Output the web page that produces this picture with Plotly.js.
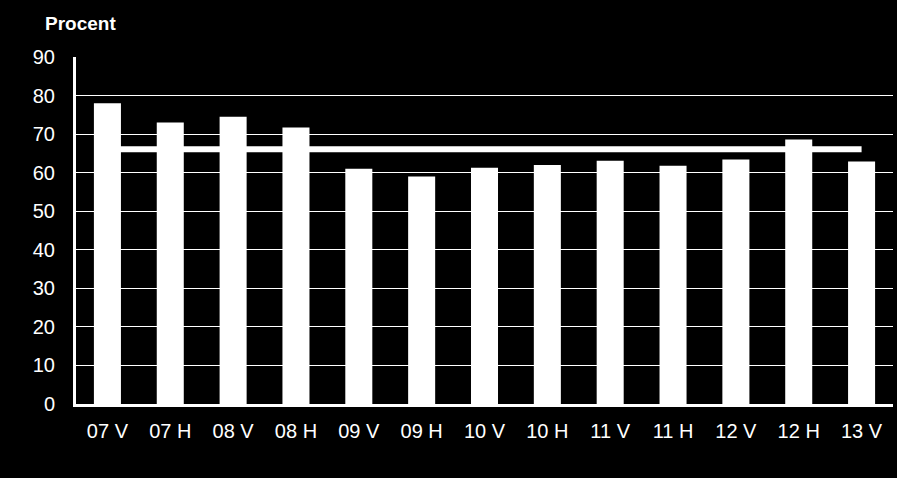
<!DOCTYPE html>
<html>
<head>
<meta charset="utf-8">
<script src="https://cdn.plot.ly/plotly-3.0.1.min.js"></script>
<style>
  html, body { margin: 0; padding: 0; background: #000; }
  #chart { width: 897px; height: 478px; }
</style>
</head>
<body>
<div id="chart"></div>
<script>
// halvår: V = vår, H = höst
var perioder = ['07 V', '07 H', '08 V', '08 H', '09 V', '09 H', '10 V', '10 H', '11 V', '11 H', '12 V', '12 H', '13 V'];
var procent = [78, 73, 74.5, 71.7, 61, 59, 61.3, 62, 63.1, 61.8, 63.4, 68.6, 62.9];
var medel = [66.1, 66.1, 66.1, 66.1, 66.1, 66.1, 66.1, 66.1, 66.1, 66.1, 66.1, 66.1, 66.1];

var chart = document.getElementById('chart');

var staplar = {
  x: perioder,
  y: procent,
  type: 'bar',
  marker: { color: '#ffffff', line: { width: 0 } },
  hoverinfo: 'x+y'
};

var linje = {
  x: perioder,
  y: medel,
  type: 'scatter',
  mode: 'lines',
  line: { color: '#ffffff', width: 6 },
  hoverinfo: 'y'
};

var layout = {
  width: 897,
  height: 478,
  paper_bgcolor: '#000000',
  plot_bgcolor: '#000000',
  showlegend: false,
  bargap: 0.57,
  margin: { l: 76, r: 4, t: 57, b: 74 },
  font: { family: 'Liberation Sans, Arial, sans-serif', color: '#ffffff', size: 20 },
  title: {
    text: '<b>Procent</b>',
    font: { size: 19, color: '#ffffff' },
    xref: 'container', yref: 'container',
    x: 45 / 897, xanchor: 'left',
    y: 1 - 23 / 478, yanchor: 'middle'
  },
  xaxis: {
    type: 'category',
    showgrid: false,
    showline: true,
    linecolor: '#ffffff',
    linewidth: 3,
    ticks: 'outside',
    ticklen: 7,
    tickcolor: '#000000',
    tickfont: { size: 20, color: '#ffffff' },
    fixedrange: true
  },
  yaxis: {
    range: [0, 90],
    dtick: 10,
    showgrid: true,
    gridcolor: '#ffffff',
    gridwidth: 1,
    zeroline: false,
    showline: true,
    linecolor: '#ffffff',
    linewidth: 3,
    ticks: 'outside',
    ticklen: 14,
    tickcolor: '#000000',
    tickfont: { size: 20, color: '#ffffff' },
    fixedrange: true
  }
};

Plotly.newPlot(chart, [staplar, linje], layout, { displayModeBar: false, staticPlot: true });
</script>
</body>
</html>
